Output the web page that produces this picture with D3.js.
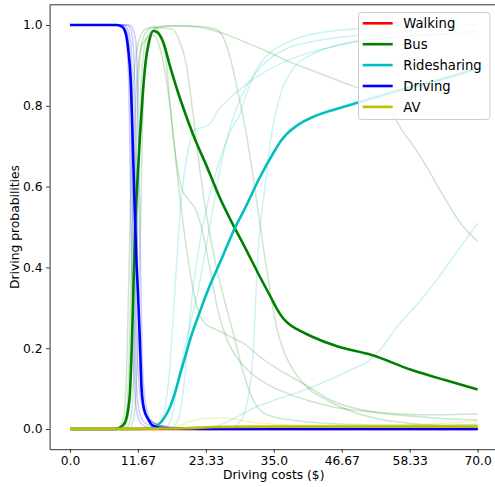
<!DOCTYPE html>
<html><head><meta charset="utf-8">
<script src="https://cdn.jsdelivr.net/npm/d3@7/dist/d3.min.js"></script>
<style>body{margin:0;background:#fff}svg{display:block}</style>
</head><body><svg id="c" width="495" height="487"></svg>
<script>
// ---------- data ----------
const xTickValues = [0, 70/6, 70/3, 35, 140/3, 350/6, 70];
const xTickLabels = ["0.0","11.67","23.33","35.0","46.67","58.33","70.0"];
const yTickValues = [0, 0.2, 0.4, 0.6, 0.8, 1.0];
const yTickLabels = ["0.0","0.2","0.4","0.6","0.8","1.0"];
const modes = ["Walking","Bus","Ridesharing","Driving","AV"];
const xLabel = "Driving costs ($)";
const yLabel = "Driving probabilities";

// mean curves [cost, probability]
const walkingMean = [[0,0],[70,0]];
const busMean = [[0,0],[7.5,0],[8.3,0.002],[9.0,0.008],[9.6,0.022],[10.0,0.05],[10.3,0.09],[10.6,0.2],[10.9,0.35],[11.2,0.5],[11.6,0.62],[12.0,0.72],[12.5,0.83],[13.0,0.91],[13.6,0.96],[14.3,0.985],[15.0,0.982],[16.0,0.958],[17.2,0.897],[18.6,0.831],[20.0,0.773],[21.75,0.707],[23.2,0.66],[25.5,0.58],[28.3,0.497],[30.0,0.451],[32.5,0.38],[34.6,0.323],[35.5,0.298],[36.5,0.276],[37.5,0.261],[39,0.247],[41.5,0.229],[46.0,0.204],[51.8,0.183],[58.7,0.146],[64.4,0.121],[70,0.098]];
const rideMean = [[0,0],[12,0],[13.5,0.002],[14.6,0.006],[15.5,0.015],[16.3,0.03],[17.2,0.055],[18.0,0.088],[18.9,0.135],[19.8,0.18],[20.6,0.22],[22.3,0.29],[23.7,0.344],[26,0.42],[28.3,0.497],[30.05,0.546],[32.5,0.62],[35.2,0.69],[36.2,0.713],[37.2,0.73],[38.5,0.746],[40,0.76],[41.5,0.771],[47.2,0.798],[52.9,0.823],[58.7,0.847],[64.4,0.868],[70,0.893]];
const drivingMean = [[0,1],[8,1],[9,0.995],[9.6,0.978],[10.0,0.94],[10.4,0.87],[10.8,0.7],[11.1,0.55],[11.4,0.42],[11.7,0.33],[12.0,0.22],[12.3,0.1],[12.7,0.05],[13.4,0.025],[14.1,0.01],[15.5,0.003],[17.5,0.001],[25,0],[70,0]];
const avMean = [[0,0],[15,0.001],[20,0.002],[25,0.005],[35,0.006],[50,0.006],[70,0.006]];

// individual samples
const busSamples = [
 [[0,0],[8.5,0],[9.5,0.02],[10.1,0.15],[10.7,0.5],[11.3,0.82],[12,0.93],[13,0.965],[14.2,0.975],[15.5,0.94],[16.6,0.86],[17.5,0.76],[18.5,0.62],[19.5,0.5],[20.5,0.4],[21.5,0.32],[22.3,0.28],[23.3,0.26],[24.5,0.25],[26,0.24],[28,0.225],[30,0.21],[32.5,0.18],[35.5,0.15],[38.5,0.125],[41.5,0.1],[45,0.07],[48,0.055],[52,0.042],[56,0.035],[62,0.028],[70,0.022]],
 [[0,0],[8,0],[9.2,0.03],[9.8,0.18],[10.3,0.5],[10.9,0.85],[11.8,0.96],[13,0.99],[14.5,0.995],[15.5,0.975],[16.6,0.9],[17.2,0.8],[18.3,0.66],[19.2,0.595],[20.5,0.565],[21.7,0.54],[22.9,0.48],[24,0.4],[25.3,0.3],[27,0.22],[29,0.17],[31,0.14],[34,0.11],[37,0.09],[41,0.07],[45,0.055],[50,0.045],[56,0.038],[63,0.035],[70,0.037]],
 [[0,0],[9,0],[10,0.03],[10.6,0.2],[11.1,0.5],[11.7,0.85],[12.6,0.97],[14,0.993],[17,0.998],[22,0.997],[25,0.99],[26.3,0.97],[27.5,0.92],[28.9,0.83],[30.4,0.72],[31.5,0.62],[32.5,0.52],[33.5,0.42],[34.5,0.33],[35.5,0.25],[36.8,0.19],[38.6,0.14],[41,0.1],[44.3,0.07],[48,0.045],[53,0.025],[60,0.012],[70,0.006]],
 [[0,0],[9.5,0],[10.5,0.03],[11.1,0.2],[11.6,0.5],[12.2,0.85],[13.2,0.97],[15,0.993],[17.5,0.99],[18.7,0.965],[20,0.9],[21.3,0.76],[22.5,0.62],[23.8,0.5],[25,0.41],[26.5,0.32],[28,0.24],[29.2,0.17],[30.3,0.115],[31.5,0.07],[33,0.042],[35,0.03],[38,0.022],[44,0.014],[52,0.01],[60,0.009],[70,0.012]],
 [[0,0],[10,0],[11,0.03],[11.6,0.2],[12.1,0.5],[12.7,0.85],[13.6,0.97],[15,0.993],[18,0.998],[22,0.995],[25,0.985],[28,0.97],[30,0.958],[33,0.94],[37,0.913],[42,0.885],[47,0.857],[50.5,0.838],[53,0.82],[55,0.79],[57,0.74],[59,0.7],[61,0.655],[64,0.58],[67.3,0.505],[70,0.465]]
];
const rideSamples = [
 [[0,0],[13,0],[14.5,0.004],[15.5,0.015],[16.3,0.05],[17.0,0.13],[17.6,0.25],[18.0,0.34],[19.0,0.55],[20.3,0.69],[21.3,0.74],[22.3,0.745],[23.8,0.752],[25.5,0.79],[27.5,0.82],[30,0.85],[33,0.88],[37,0.91],[42,0.935],[48,0.955],[56,0.97],[63,0.978],[70,0.985]],
 [[0,0],[16,0],[17.5,0.03],[18.3,0.1],[20,0.22],[22,0.344],[24,0.5],[26,0.66],[28,0.77],[30,0.84],[33,0.9],[37,0.94],[42,0.96],[50,0.975],[60,0.985],[70,0.988]],
 [[0,0],[17,0],[18.5,0.02],[19.5,0.1],[20.9,0.32],[22.5,0.48],[24,0.58],[26.3,0.69],[28,0.75],[29.2,0.78],[30.3,0.83],[32.5,0.9],[37.8,0.96],[45,0.985],[55,0.995],[70,1.0]],
 [[0,0],[27,0],[29,0.015],[30,0.04],[31.5,0.2],[32.3,0.44],[33.5,0.6],[34.6,0.73],[36,0.82],[38.6,0.897],[42,0.93],[47.2,0.955],[55,0.968],[62,0.975],[70,0.98]],
 [[0,0],[22,0],[25,0.006],[28,0.025],[32,0.055],[36,0.076],[40,0.095],[45,0.125],[48,0.145],[51.5,0.171],[53.5,0.2],[56,0.25],[60,0.315],[63,0.369],[66,0.43],[68,0.47],[70,0.51]]
];
const drivingSamples = [
 [[0,1],[8.4,1],[9.2,0.99],[9.7,0.96],[10.1,0.85],[10.5,0.5],[10.9,0.18],[11.4,0.05],[12.1,0.015],[13.4,0.004],[16,0],[70,0]],
 [[0,1],[8.8,1],[9.6,0.99],[10.1,0.96],[10.4,0.85],[10.8,0.5],[11.2,0.18],[11.7,0.06],[12.5,0.02],[14.3,0.006],[17,0],[70,0]],
 [[0,1],[9.2,1],[9.9,0.99],[10.4,0.96],[10.7,0.85],[11.1,0.5],[11.5,0.2],[12.1,0.08],[13.1,0.03],[15.2,0.01],[19,0.002],[24,0],[70,0]],
 [[0,1],[9.7,1],[10.4,0.99],[10.8,0.96],[11.1,0.85],[11.5,0.5],[11.9,0.2],[12.5,0.07],[13.5,0.025],[15.7,0.008],[20,0],[70,0]],
 [[0,1],[10.2,1],[10.8,0.99],[11.3,0.96],[11.6,0.85],[12.0,0.5],[12.4,0.18],[13.0,0.06],[14.0,0.02],[16.3,0.005],[20,0],[70,0]]
];
const avSamples = [
 [[0,0],[15,0],[17,0.003],[19,0.01],[21,0.02],[23,0.026],[26,0.027],[28.5,0.024],[31,0.017],[35,0.012],[42,0.009],[50,0.008],[58,0.01],[64,0.014],[70,0.02]],
 [[0,0],[18,0.001],[24,0.006],[32,0.008],[45,0.006],[60,0.007],[70,0.01]],
 [[0,0],[20,0.001],[30,0.003],[50,0.003],[70,0.004]]
];
const walkingSamples = [
 [[0,0],[70,0.001]],
 [[0,0],[70,0]]
];

// ---------- styles ----------
const modeColors = {Walking:"#ff0000", Bus:"#008000", Ridesharing:"#00bfbf", Driving:"#0000ff", AV:"#bfbf00"};

// ---------- layout ----------
const svg = d3.select("#c");
const L = 49.6, R = 498, T = 4.8, B = 449.2;
const x = d3.scaleLinear().domain([-3.5, 73.5]).range([L, R]);
const y = d3.scaleLinear().domain([-0.05, 1.05]).range([B, T]);
const font = "DejaVu Sans, sans-serif";

const line = d3.line().x(d => x(d[0])).y(d => y(d[1])).curve(d3.curveMonotoneX);

const plot = svg.append("g");
// faint sample lines
const sampleSets = [["Walking", walkingSamples],["Bus", busSamples],["Ridesharing", rideSamples],["Driving", drivingSamples],["AV", avSamples]];
sampleSets.forEach(([m, arr]) => {
  arr.forEach(s => {
    plot.append("path").attr("d", line(s)).attr("fill","none")
      .attr("stroke", modeColors[m]).attr("stroke-opacity", 0.2).attr("stroke-width", 1.5);
  });
});
// mean lines
const meanSets = [["Walking", walkingMean],["Bus", busMean],["Ridesharing", rideMean],["Driving", drivingMean],["AV", avMean]];
meanSets.forEach(([m, s]) => {
  plot.append("path").attr("d", line(s)).attr("fill","none")
    .attr("stroke", modeColors[m]).attr("stroke-width", 2.6).attr("stroke-linejoin","round");
});

// axes
const axColor = "#333";
const xAxis = d3.axisBottom(x).tickValues(xTickValues).tickFormat((d,i) => xTickLabels[i]).tickSizeInner(3.5).tickSizeOuter(0).tickPadding(3.5);
const yAxis = d3.axisLeft(y).tickValues(yTickValues).tickFormat((d,i) => yTickLabels[i]).tickSizeInner(3.5).tickSizeOuter(0).tickPadding(3.5);
const gx = svg.append("g").attr("transform", `translate(0,${B})`).call(xAxis);
const gy = svg.append("g").attr("transform", `translate(${L},0)`).call(yAxis);
[gx, gy].forEach(g => {
  g.selectAll("path.domain").attr("stroke", axColor).attr("stroke-width", 1);
  g.selectAll(".tick line").attr("stroke", axColor).attr("stroke-width", 1);
  g.selectAll(".tick text").attr("fill", "#000").style("font-family", font).style("font-size", "12.3px");
});
// top spine
svg.append("line").attr("x1", L).attr("x2", R).attr("y1", T).attr("y2", T).attr("stroke", axColor).attr("stroke-width", 1);

// axis labels
svg.append("text").attr("x", (L+R)/2).attr("y", 479).attr("text-anchor","middle")
  .style("font-family", font).style("font-size","12.3px").text(xLabel);
svg.append("text").attr("transform", `translate(15,${(T+B)/2}) rotate(-90)`).attr("text-anchor","middle")
  .attr("dy","0.35em").style("font-family", font).style("font-size","12.3px").text(yLabel);

// legend
const lg = svg.append("g");
lg.append("rect").attr("x", 358.5).attr("y", 12.5).attr("width", 131.5).attr("height", 107)
  .attr("rx", 3).attr("fill", "#fff").attr("fill-opacity", 0.8).attr("stroke", "#cccccc").attr("stroke-width", 1);
modes.forEach((m, i) => {
  const cy = 23.3 + i * 20.9;
  lg.append("line").attr("x1", 362.7).attr("x2", 392.7).attr("y1", cy).attr("y2", cy)
    .attr("stroke", modeColors[m]).attr("stroke-width", 2.6);
  lg.append("text").attr("x", 403.3).attr("y", cy).attr("dy", "0.36em")
    .style("font-family", font).style("font-size", "13.2px").attr("fill","#000").text(m);
});
</script>
</body></html>
